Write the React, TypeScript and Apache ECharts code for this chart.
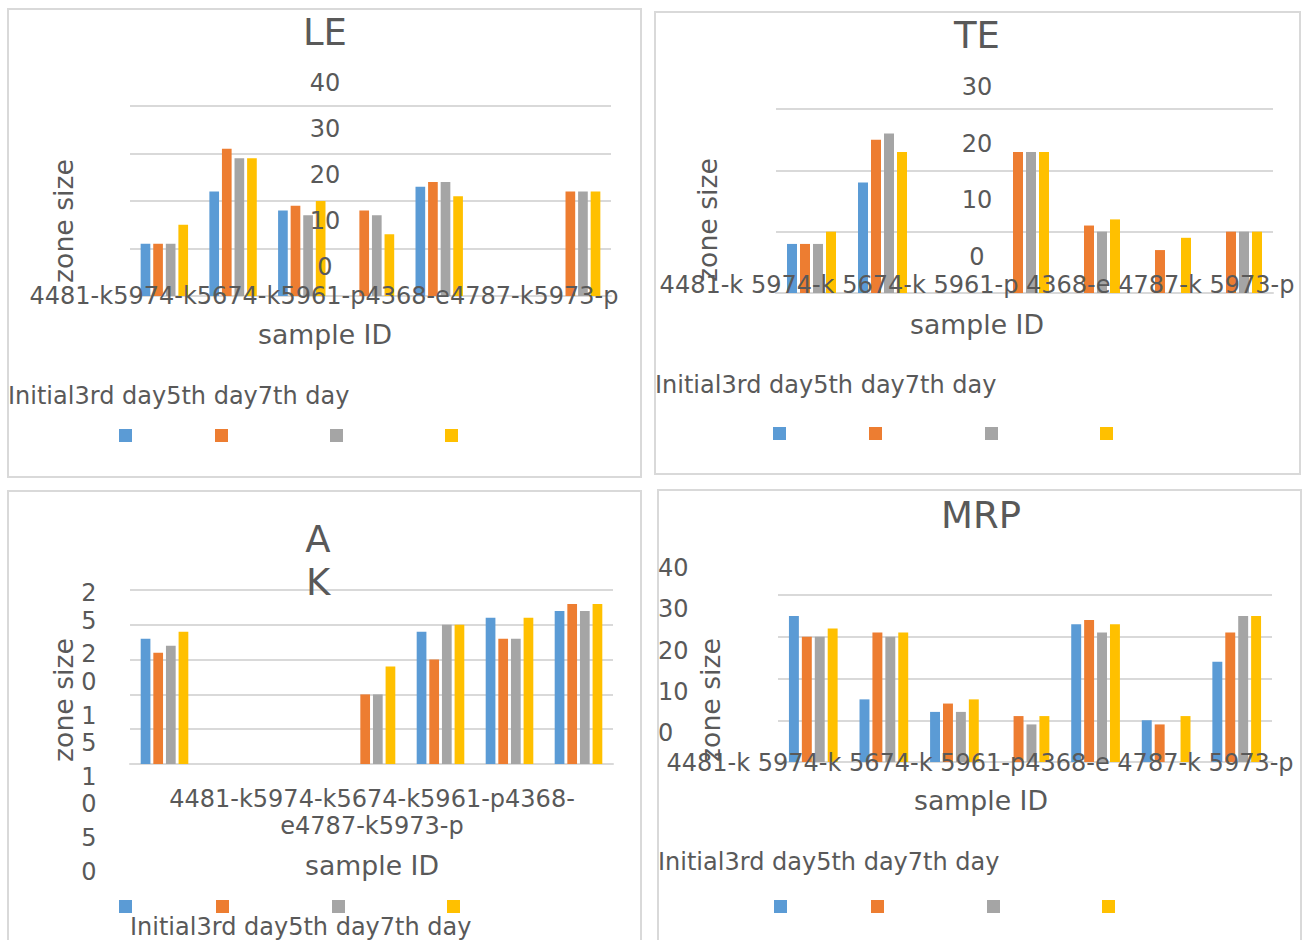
import React, { useEffect, useRef } from "react";
import * as echarts from "echarts";

// ---------- data ----------
const categories = ["4481-k", "5974-k", "5674-k", "5961-p", "4368-e", "4787-k", "5973-p"];
const seriesNames = ["Initial", "3rd day", "5th day", "7th day"];
const colors = ["#5B9BD5", "#ED7D31", "#A5A5A5", "#FFC000"];

const leInitial = [11, 22, 18, null, 23, null, null];
const le3rd = [11, 31, 19, 18, 24, null, 22];
const le5th = [11, 29, 17, 17, 24, null, 22];
const le7th = [15, 29, 20, 13, 21, null, 22];
const leTicks = [40, 30, 20, 10, 0];

const teInitial = [8, 18, null, null, null, null, null];
const te3rd = [8, 25, null, 23, 11, 7, 10];
const te5th = [8, 26, null, 23, 10, null, 10];
const te7th = [10, 23, null, 23, 12, 9, 10];
const teTicks = [30, 20, 10, 0];

const akInitial = [18, null, null, null, 19, 21, 22];
const ak3rd = [16, null, null, 10, 15, 18, 23];
const ak5th = [17, null, null, 10, 20, 18, 22];
const ak7th = [19, null, null, 14, 20, 21, 23];
const akTicks = [25, 20, 15, 10, 5, 0];

const mrpInitial = [35, 15, 12, null, 33, 10, 24];
const mrp3rd = [30, 31, 14, 11, 34, 9, 31];
const mrp5th = [30, 30, 12, 9, 31, null, 35];
const mrp7th = [32, 31, 15, 11, 33, 11, 35];
const mrpTicks = [40, 30, 20, 10, 0];

const xAxisTitle = "sample ID";
const yAxisTitle = "zone size";

// ---------- style ----------
const FONT = "DejaVu Sans";
const TEXT = "#595959";
const LINE = "#D9D9D9";
const TICK_SIZE = 24;
const AXIS_TITLE_SIZE = 26.7;
const TITLE_SIZE = 37;

const allCats = categories.join("");
const akCatText = allCats.slice(0, 29) + "\n" + allCats.slice(29);

const panels = [
  {
    title: "LE",
    data: [leInitial, le3rd, le5th, le7th],
    ticks: leTicks,
    border: [8, 9, 633, 468],
    grid: { left: 130, top: 106, width: 481, height: 190 },
    titlePos: [325, 32],
    yLab: { x: 325, y0: 83, step: 46, align: "center" },
    cat: { text: allCats, x: 324, y: 296, lh: 28 },
    xTitle: [325, 334],
    yTitle: [63, 221],
    legText: [8, 396],
    squares: { xs: [119, 215, 330, 445], y: 429 },
  },
  {
    title: "TE",
    data: [teInitial, te3rd, te5th, te7th],
    ticks: teTicks,
    border: [655, 12, 645, 462],
    grid: { left: 776, top: 109, width: 497, height: 184 },
    titlePos: [977, 35],
    yLab: { x: 977, y0: 87, step: 56.6, align: "center" },
    cat: { text: categories.join(" "), x: 977, y: 285, lh: 28 },
    xTitle: [977, 324],
    yTitle: [707, 220],
    legText: [655, 385],
    squares: { xs: [773, 869, 985, 1100], y: 427 },
  },
  {
    title: "AK",
    data: [akInitial, ak3rd, ak5th, ak7th],
    ticks: akTicks,
    border: [8, 491, 633, 470],
    grid: { left: 130, top: 590, width: 483, height: 174 },
    titlePos: [318, 561],
    yLab: null,
    cat: { text: akCatText, x: 372, y: 812.5, lh: 27.5 },
    xTitle: [372, 865],
    yTitle: [63, 700],
    legText: [130, 927],
    squares: { xs: [119, 216, 332, 447], y: 900 },
  },
  {
    title: "MRP",
    data: [mrpInitial, mrp3rd, mrp5th, mrp7th],
    ticks: mrpTicks,
    border: [658, 490, 643, 470],
    grid: { left: 778, top: 595, width: 494, height: 167 },
    titlePos: [981, 515],
    yLab: { x: 658, y0: 568, step: 41.25, align: "left" },
    cat: {
      text: categories.slice(0, 4).join(" ") + categories.slice(4).join(" "),
      x: 980,
      y: 763,
      lh: 28,
    },
    xTitle: [981, 800],
    yTitle: [710, 700],
    legText: [658, 862],
    squares: { xs: [774, 871, 987, 1102], y: 900 },
  },
];

function txt(text: string, x: number, y: number, size: number, align: string, extra: any = {}) {
  return {
    type: "text",
    x,
    y,
    z: 100,
    silent: true,
    ...extra,
    style: {
      text,
      fill: TEXT,
      fontFamily: FONT,
      fontSize: size,
      align,
      textAlign: align,
      verticalAlign: "middle",
      textVerticalAlign: "middle",
      ...(extra.style || {}),
    },
  };
}

function buildOption() {
  const graphics: any[] = [];
  panels.forEach((p) => {
    graphics.push({
      type: "rect",
      z: 1,
      silent: true,
      shape: { x: p.border[0], y: p.border[1], width: p.border[2], height: p.border[3] },
      style: { fill: "none", stroke: LINE, lineWidth: 2 },
    });
    if (p.title === "AK") {
      graphics.push(
        txt(p.title, p.titlePos[0], p.titlePos[1], TITLE_SIZE, "center", {
          style: { width: 34, overflow: "breakAll", lineHeight: 43 },
        })
      );
      // tick labels wrapped one character per line (as in the reference)
      let y = 593;
      p.ticks.forEach((t, i) => {
        const chars = String(t).split("");
        chars.forEach((ch, k) => {
          graphics.push(txt(ch, 89, y, TICK_SIZE, "center"));
          if (k < chars.length - 1) y += 27.5;
        });
        if (i < p.ticks.length - 1) y += 33.8;
      });
    } else {
      graphics.push(txt(p.title, p.titlePos[0], p.titlePos[1], TITLE_SIZE, "center"));
      p.ticks.forEach((t, i) => {
        graphics.push(txt(String(t), p.yLab!.x, p.yLab!.y0 + i * p.yLab!.step, TICK_SIZE, p.yLab!.align));
      });
    }
    graphics.push(txt(p.cat.text, p.cat.x, p.cat.y, TICK_SIZE, "center", { style: { lineHeight: p.cat.lh } }));
    graphics.push(txt(xAxisTitle, p.xTitle[0], p.xTitle[1], AXIS_TITLE_SIZE, "center"));
    graphics.push(txt(yAxisTitle, p.yTitle[0], p.yTitle[1], AXIS_TITLE_SIZE, "center", { rotation: Math.PI / 2 }));
    graphics.push(txt(seriesNames.join(""), p.legText[0], p.legText[1], TICK_SIZE, "left"));
    p.squares.xs.forEach((sx, j) => {
      graphics.push({
        type: "rect",
        z: 100,
        silent: true,
        shape: { x: sx, y: p.squares.y, width: 13, height: 13 },
        style: { fill: colors[j] },
      });
    });
  });

  return {
    animation: false,
    backgroundColor: "#ffffff",
    textStyle: { fontFamily: FONT },
    grid: panels.map((p) => ({ ...p.grid })),
    xAxis: panels.map((p, i) => ({
      type: "category",
      gridIndex: i,
      data: categories,
      axisLine: { show: true, lineStyle: { color: LINE, width: 2 } },
      axisTick: { show: false },
      axisLabel: { show: false },
    })),
    yAxis: panels.map((p, i) => ({
      type: "value",
      gridIndex: i,
      min: 0,
      max: p.ticks[0],
      interval: p.ticks[0] - p.ticks[1],
      axisLine: { show: false },
      axisTick: { show: false },
      axisLabel: { show: false },
      splitLine: { show: true, lineStyle: { color: LINE, width: 2 } },
    })),
    series: panels.flatMap((p, i) =>
      p.data.map((d, j) => ({
        type: "bar",
        name: seriesNames[j],
        xAxisIndex: i,
        yAxisIndex: i,
        data: d,
        barGap: "30%",
        barCategoryGap: "31%",
        itemStyle: { color: colors[j] },
      }))
    ),
    graphic: { elements: graphics },
  };
}

export default function App() {
  const ref = useRef<HTMLDivElement>(null);
  useEffect(() => {
    const chart = echarts.init(ref.current!, null, { renderer: "svg" });
    chart.setOption(buildOption() as any);
    return () => chart.dispose();
  }, []);
  return (
    <div
      ref={ref}
      style={{ position: "fixed", left: 0, top: 0, width: 1307, height: 940, background: "#fff" }}
    />
  );
}
